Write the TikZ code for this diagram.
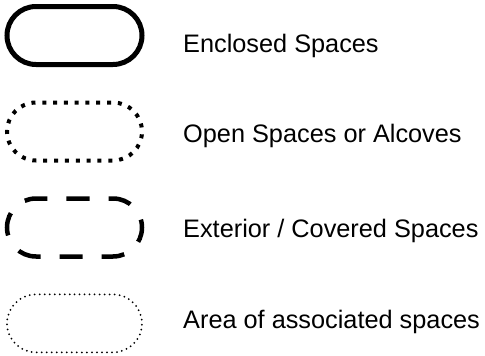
\documentclass[tikz,border=0pt]{standalone}
\usepackage{fontspec}
\setmainfont{Liberation Sans}
\usetikzlibrary{shapes.misc}
\begin{document}
\begin{tikzpicture}[x=1pt,y=-1pt,
  shapebox/.style={rounded rectangle, rounded rectangle arc length=180, minimum width=135pt, minimum height=58pt, inner sep=0pt},
  enclosed/.style={shapebox, draw, line width=5pt},
  openbox/.style={shapebox, draw, line width=4pt, dash pattern=on 4pt off 6.85pt},
  exterior/.style={shapebox, draw, line width=4.5pt, dash pattern=on 23pt off 19pt, dash phase=8pt},
  areabox/.style={shapebox, draw, line width=2pt, line cap=round, dash pattern=on 0pt off 5.02pt},
  legendtext/.style={anchor=base west, inner sep=0pt, font=\fontsize{25.3}{30}\selectfont}]
\useasboundingbox (0,0) rectangle (485,356);
\node[enclosed] (s1) at (74.5,35.5) {};
\node[openbox] (s2) at (74.5,131.5) {};
\node[exterior] (s3) at (74.5,227.5) {};
\node[areabox] (s4) at (74.5,323.4) {};
\node[legendtext] (t1) at (183,52) {Enclosed Spaces};
\node[legendtext] (t2) at (183,142) {Open Spaces or Alcoves};
\node[legendtext] (t3) at (183,237) {Exterior / Covered Spaces};
\node[legendtext] (t4) at (183,328) {Area of associated spaces};
\end{tikzpicture}
\end{document}
